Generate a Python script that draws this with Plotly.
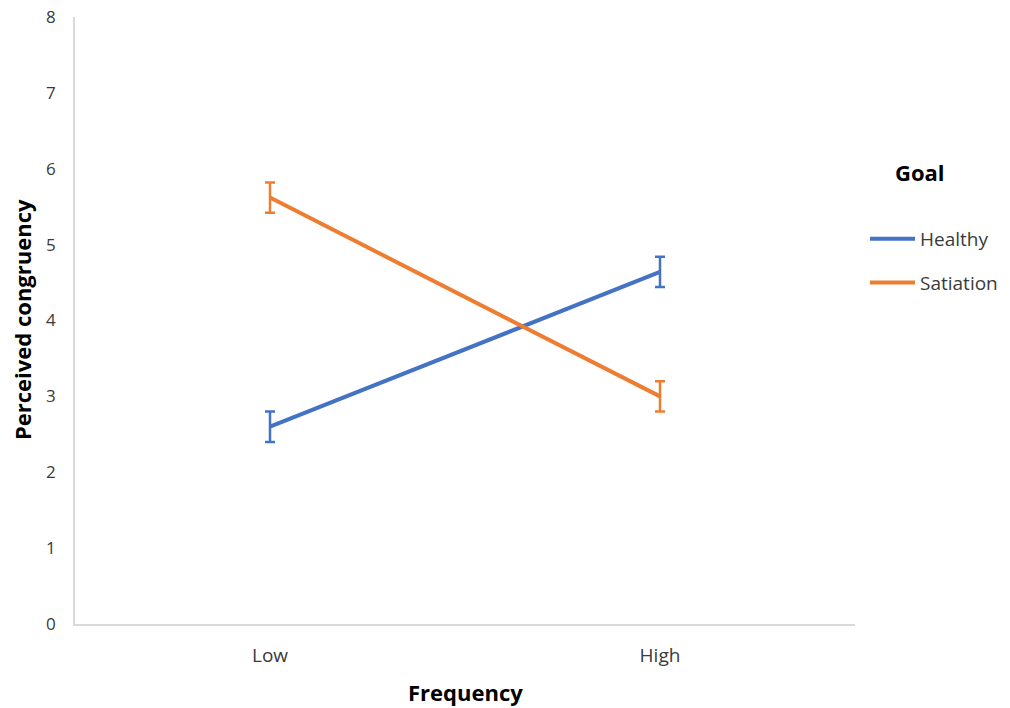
import plotly.graph_objects as go

# Cell means and error margins for the frequency x goal design
frequency = ["Low", "High"]
healthy_mean = [2.60, 4.64]
healthy_err = [0.20, 0.20]
satiation_mean = [5.62, 3.00]
satiation_err = [0.20, 0.20]
y_ticks = [0, 1, 2, 3, 4, 5, 6, 7, 8]

BLUE = "#4472C4"
ORANGE = "#ED7D31"
FONT = "Open Sans"

W, H = 1010, 708
L, R, T, B = 75, 155, 17, 84
plot_w = W - L - R
plot_h = H - T - B


def px(x):
    return (x - L) / plot_w


def py(y):
    return (H - B - y) / plot_h


fig = go.Figure()
fig.add_trace(go.Scatter(
    x=frequency, y=healthy_mean, name="Healthy", mode="lines",
    line=dict(color=BLUE, width=4),
    error_y=dict(type="data", array=healthy_err, color=BLUE, thickness=2.5, width=5),
    legendgroup="h",
))
fig.add_trace(go.Scatter(
    x=frequency, y=satiation_mean, name="Satiation", mode="lines",
    line=dict(color=ORANGE, width=4),
    error_y=dict(type="data", array=satiation_err, color=ORANGE, thickness=2.5, width=5),
    legendgroup="s",
))

fig.update_layout(
    width=W, height=H,
    margin=dict(l=L, r=R, t=T, b=B, autoexpand=False),
    paper_bgcolor="white", plot_bgcolor="white",
    font=dict(family=FONT, size=18, color="#595959"),
    xaxis=dict(
        type="category", range=[-0.5, 1.5], automargin=False,
        showline=True, linecolor="#D9D9D9", linewidth=1.5,
        showgrid=False, ticks="", ticklabelstandoff=13,
        tickfont=dict(size=19, color="#3A3A3A"),
    ),
    yaxis=dict(
        range=[0, 8], tickvals=y_ticks, zeroline=False, automargin=False,
        showline=True, linecolor="#D9D9D9", linewidth=1.5,
        showgrid=False, ticks="", ticklabelstandoff=14,
        tickfont=dict(size=17, color="#3A3A3A"),
    ),
    legend=dict(
        x=px(865), xanchor="left", y=py(220), yanchor="top",
        traceorder="grouped", tracegroupgap=16,
        font=dict(size=19, color="#3A3A3A"), itemwidth=45,
    ),
    annotations=[
        dict(text="<b>Goal</b>", x=px(920), y=py(172), xref="paper", yref="paper",
             xanchor="center", yanchor="middle", showarrow=False,
             font=dict(size=22, color="#000000")),
        dict(text="<b>Frequency</b>", x=px(465), y=py(692), xref="paper", yref="paper",
             xanchor="center", yanchor="middle", showarrow=False,
             font=dict(size=22, color="#000000")),
        dict(text="<b>Perceived congruency</b>", x=px(22), y=py(320), xref="paper", yref="paper",
             xanchor="center", yanchor="middle", showarrow=False, textangle=-90,
             font=dict(size=22, color="#000000")),
    ],
)

fig.write_html("out.html")
